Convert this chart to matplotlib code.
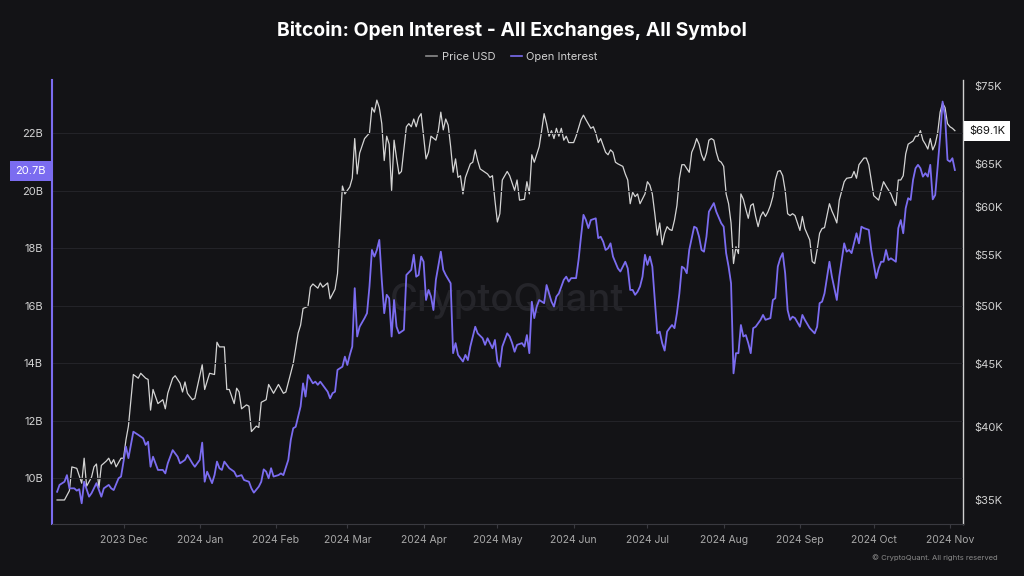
import numpy as np
import pandas as pd
import matplotlib
matplotlib.use('Agg')
import matplotlib.pyplot as plt
import matplotlib.dates as mdates
from matplotlib.lines import Line2D
from matplotlib.ticker import FixedLocator, FuncFormatter, NullLocator

plt.rcParams['font.family'] = ['Inter', 'DejaVu Sans']

# data (days counted from 2023-11-04)
start = pd.Timestamp('2023-11-04')

price_day = [0, 3, 5, 6, 8, 10, 11, 12, 14, 15, 16, 17, 18, 20, 21, 22, 23, 24, 26, 27,
             28, 29, 31, 33, 34, 36, 37, 38, 39, 41, 43, 44, 45, 47, 48, 50, 51, 52, 53, 55,
             56, 57, 59, 60, 62, 64, 65, 66, 68, 69, 70, 72, 73, 74, 75, 77, 78, 79, 81, 82,
             83, 85, 86, 88, 90, 92, 93, 96, 98, 99, 100, 102, 103, 104, 106, 107, 108, 110, 111, 113,
             114, 115, 116, 117, 119, 120, 121, 122, 123, 125, 127, 128, 129, 130, 131, 132, 133, 134, 135, 136,
             137, 138, 139, 140, 142, 143, 144, 145, 146, 147, 148, 150, 151, 152, 154, 155, 156, 157, 158, 159,
             160, 161, 162, 163, 164, 165, 166, 167, 168, 169, 170, 171, 172, 173, 175, 176, 177, 178, 179, 180,
             181, 183, 184, 186, 187, 188, 190, 191, 192, 193, 194, 196, 197, 198, 199, 200, 201, 202, 203, 204,
             205, 206, 207, 208, 210, 211, 213, 214, 215, 217, 218, 219, 220, 221, 223, 224, 225, 226, 227, 228,
             230, 231, 232, 233, 234, 235, 236, 237, 239, 240, 241, 242, 243, 244, 245, 246, 247, 248, 249, 250,
             251, 252, 253, 254, 255, 257, 258, 259, 260, 261, 262, 263, 264, 265, 266, 267, 268, 269, 270, 271,
             272, 273, 274, 275, 276, 277, 278, 279, 280, 281, 282, 283, 284, 285, 286, 287, 288, 289, 290, 291,
             292, 293, 294, 295, 296, 297, 298, 299, 300, 302, 303, 304, 306, 307, 308, 309, 310, 311, 312, 314,
             315, 316, 317, 318, 320, 321, 323, 324, 325, 326, 328, 329, 330, 331, 332, 334, 335, 336, 337, 339,
             340, 341, 342, 343, 344, 345, 346, 348, 349, 350, 351, 352, 353, 354, 355, 356, 357, 358, 359, 360,
             361, 362, 363, 364, 365]
price_k = [35.0, 35.0, 35.6, 37.2, 37.1, 36.1, 37.8, 35.9, 36.5, 37.2, 37.4, 35.8, 37.3, 37.6, 37.8, 37.4, 37.7, 37.2, 37.8, 37.8,
           39.1, 40.1, 44.1, 43.8, 44.2, 43.8, 43.7, 41.3, 42.9, 41.8, 42.1, 41.4, 42.6, 43.8, 44.0, 43.4, 42.7, 43.5, 42.6, 42.1,
           42.2, 43.1, 44.9, 42.9, 44.2, 44.1, 46.8, 46.4, 46.4, 42.9, 42.9, 41.8, 43.0, 42.7, 41.4, 41.7, 41.6, 39.7, 40.1, 40.0,
           41.9, 42.1, 43.3, 42.6, 43.3, 42.6, 42.7, 45.0, 47.6, 48.3, 49.8, 50.0, 51.8, 52.1, 51.7, 52.2, 51.8, 52.2, 50.7, 51.6,
           53.1, 57.5, 62.4, 61.5, 62.3, 63.3, 68.1, 63.8, 66.3, 68.1, 68.8, 72.1, 71.5, 73.1, 72.1, 70.0, 65.4, 68.4, 67.4, 61.9,
           67.9, 65.7, 63.8, 64.1, 69.6, 70.0, 69.6, 70.6, 69.6, 70.8, 71.3, 65.6, 66.4, 68.4, 67.9, 69.1, 71.5, 69.2, 70.6, 69.8,
           67.1, 64.0, 65.6, 63.4, 63.6, 61.5, 63.4, 64.2, 65.0, 65.2, 66.7, 65.4, 64.4, 64.2, 63.8, 63.4, 63.6, 60.8, 58.4, 59.3,
           63.1, 64.1, 63.6, 61.9, 63.1, 60.8, 60.9, 62.9, 61.5, 66.1, 65.2, 67.1, 69.1, 71.3, 70.0, 68.4, 69.1, 68.1, 69.4, 68.4,
           69.4, 67.9, 68.4, 67.6, 67.6, 68.4, 70.5, 71.1, 70.5, 69.4, 69.6, 68.8, 67.6, 68.1, 66.4, 66.1, 66.7, 66.4, 65.2, 65.0,
           64.7, 63.8, 63.1, 60.4, 61.7, 61.2, 61.5, 60.4, 61.5, 62.9, 62.5, 61.5, 59.3, 57.0, 58.3, 56.0, 57.2, 57.9, 57.6, 57.5,
           58.6, 60.2, 63.3, 64.9, 64.9, 64.0, 66.4, 67.1, 68.1, 67.4, 66.1, 65.4, 66.3, 67.9, 68.1, 67.9, 66.4, 65.4, 65.2, 64.7,
           61.5, 60.4, 58.3, 54.1, 55.8, 55.1, 61.5, 60.9, 59.8, 58.8, 60.2, 60.4, 59.0, 57.9, 59.0, 59.5, 59.0, 59.5, 60.2, 61.2,
           63.1, 64.1, 64.2, 63.6, 61.9, 59.3, 59.1, 59.3, 59.1, 57.5, 59.0, 57.7, 56.5, 54.3, 54.1, 55.5, 57.2, 57.7, 57.8, 60.4,
           59.6, 59.0, 58.3, 60.8, 62.9, 63.3, 63.4, 64.1, 63.3, 64.9, 65.7, 65.7, 64.9, 63.1, 61.3, 60.8, 61.9, 62.9, 62.4, 61.5,
           60.8, 60.2, 63.1, 63.1, 63.6, 66.2, 67.4, 67.8, 68.4, 68.4, 69.1, 67.9, 67.4, 66.8, 68.1, 66.7, 67.4, 68.8, 71.5, 72.7,
           72.1, 70.0, 69.6, 69.4, 69.1]

oi_day = [0, 1, 3, 4, 5, 7, 8, 9, 10, 11, 13, 14, 16, 18, 19, 21, 22, 23, 25, 26,
          28, 29, 31, 33, 35, 36, 37, 38, 39, 41, 43, 44, 45, 47, 49, 50, 52, 53, 55, 56,
          58, 59, 60, 61, 63, 64, 65, 66, 67, 68, 70, 72, 73, 75, 76, 78, 79, 80, 82, 83,
          84, 85, 86, 87, 88, 90, 91, 92, 94, 95, 96, 97, 99, 100, 101, 102, 104, 105, 106, 107,
          109, 110, 111, 112, 113, 114, 116, 117, 118, 119, 120, 121, 122, 123, 125, 126, 127, 128, 129, 130,
          131, 132, 133, 134, 135, 136, 137, 138, 139, 141, 142, 144, 145, 146, 147, 148, 149, 150, 151, 152,
          153, 154, 156, 157, 158, 160, 161, 162, 163, 165, 166, 167, 168, 170, 171, 173, 174, 175, 177, 178,
          179, 180, 181, 183, 184, 185, 186, 187, 189, 190, 191, 192, 193, 194, 195, 196, 198, 199, 201, 202,
          203, 204, 205, 206, 207, 208, 209, 211, 212, 213, 214, 215, 216, 217, 219, 220, 221, 222, 223, 224,
          225, 226, 228, 229, 231, 232, 233, 234, 235, 236, 237, 238, 239, 240, 241, 242, 243, 244, 245, 246,
          247, 248, 249, 250, 251, 252, 253, 254, 255, 256, 257, 259, 260, 261, 262, 263, 264, 265, 267, 268,
          270, 271, 272, 273, 274, 275, 276, 277, 278, 279, 280, 281, 282, 283, 284, 286, 287, 288, 290, 291,
          292, 293, 294, 295, 296, 297, 298, 299, 300, 302, 303, 304, 306, 308, 309, 310, 311, 312, 314, 315,
          317, 318, 320, 321, 322, 323, 325, 326, 327, 328, 330, 331, 333, 334, 335, 336, 337, 338, 339, 341,
          342, 343, 344, 345, 346, 347, 348, 349, 350, 351, 352, 353, 354, 355, 356, 357, 358, 359, 360, 361,
          362, 363, 364, 365]
oi_b = [9.53, 9.77, 9.88, 10.11, 9.65, 9.65, 9.57, 9.62, 9.13, 9.88, 9.36, 9.48, 9.83, 9.36, 9.65, 9.77, 9.65, 9.59, 10.00, 10.06,
        11.10, 10.70, 11.62, 11.51, 11.39, 11.16, 11.27, 10.40, 10.75, 10.29, 10.29, 10.17, 10.52, 10.98, 10.75, 10.52, 10.64, 10.81, 10.52, 10.40,
        10.64, 11.24, 9.88, 10.23, 9.83, 10.11, 10.58, 10.35, 10.29, 10.58, 10.35, 10.23, 10.06, 10.11, 9.94, 9.88, 9.65, 9.50, 9.71, 9.88,
        10.31, 10.23, 10.00, 10.35, 10.06, 10.11, 10.17, 10.11, 10.64, 11.33, 11.74, 11.79, 12.50, 13.30, 12.84, 13.59, 13.30, 13.36, 13.25, 13.36,
        13.13, 13.01, 12.78, 12.96, 13.01, 13.77, 13.88, 14.23, 13.94, 14.29, 14.58, 16.61, 14.93, 15.27, 15.57, 15.74, 16.67, 17.94, 17.71, 17.94,
        18.29, 16.90, 15.74, 16.38, 16.26, 14.93, 16.20, 15.27, 15.04, 15.16, 17.07, 17.25, 17.77, 17.01, 17.07, 17.71, 17.53, 16.20, 16.55, 16.32,
        15.85, 16.90, 17.88, 17.25, 17.07, 16.78, 14.35, 14.70, 14.29, 14.06, 14.29, 14.11, 14.58, 15.27, 15.04, 14.87, 14.64, 14.87, 14.52, 14.81,
        14.06, 13.88, 14.58, 15.04, 14.93, 14.70, 14.40, 14.64, 14.70, 14.58, 14.98, 14.35, 16.14, 15.57, 15.97, 16.20, 16.09, 16.72, 16.14, 15.97,
        16.32, 16.43, 16.67, 16.90, 17.01, 16.84, 16.96, 16.96, 17.59, 18.40, 19.16, 18.98, 18.70, 18.98, 19.04, 18.35, 18.40, 18.23, 17.94, 18.00,
        18.17, 17.71, 17.30, 17.19, 17.53, 17.30, 16.55, 16.55, 16.38, 16.49, 16.67, 17.01, 17.77, 17.42, 17.71, 17.36, 16.20, 15.04, 15.10, 14.70,
        14.44, 15.10, 15.22, 15.33, 15.22, 15.74, 16.43, 17.36, 17.30, 17.13, 17.94, 18.75, 18.70, 18.40, 17.94, 17.88, 18.40, 19.27, 19.57, 19.27,
        18.87, 18.75, 17.83, 17.36, 16.78, 13.65, 14.35, 14.35, 15.33, 14.93, 14.98, 14.70, 14.35, 15.22, 15.27, 15.51, 15.68, 15.51, 15.57, 16.20,
        16.26, 17.36, 17.65, 17.83, 17.13, 15.85, 15.51, 15.62, 15.57, 15.27, 15.68, 15.51, 15.22, 15.04, 15.27, 16.09, 16.14, 16.43, 17.53, 17.01,
        16.20, 17.01, 18.17, 17.88, 17.94, 17.83, 18.52, 18.17, 18.75, 18.70, 18.64, 17.94, 16.96, 17.30, 17.53, 17.53, 17.94, 17.59, 17.65, 17.53,
        18.70, 18.98, 18.52, 19.39, 19.74, 19.68, 20.38, 20.78, 20.90, 20.78, 20.49, 20.61, 20.49, 20.90, 19.70, 19.85, 20.84, 21.88, 23.10, 22.60,
        21.07, 21.01, 21.13, 20.72]

left_ticks = [10, 12, 14, 16, 18, 20, 22]
# $70K sits under the last-price box in the reference, so it is left out
right_ticks = [35, 40, 45, 50, 55, 60, 65, 75]
oi_last = 20.7
price_last = 69.1

bg = '#131316'
purple = '#7b6cf0'
white_line = '#d4d4d4'
grid_c = '#232328'

fig = plt.figure(figsize=(10.24, 5.76), dpi=100, facecolor=bg)
ax = fig.add_axes([52 / 1024, 1 - 524 / 576, (963 - 52) / 1024, (524 - 80) / 576])
ax2 = ax.twinx()
ax2.set_facecolor(bg)
ax.set_zorder(ax2.get_zorder() + 1)
ax.patch.set_visible(False)

price_dates = start + pd.to_timedelta(price_day, unit='D')
oi_dates = start + pd.to_timedelta(oi_day, unit='D')

ax2.plot(price_dates, np.array(price_k) * 1000, color=white_line, lw=0.9)
ax.plot(oi_dates, oi_b, color=purple, lw=1.3)

# axes limits
ax.set_xlim(start - pd.Timedelta(days=2.07), start + pd.Timedelta(days=368.3))
ax.set_ylim(8.41, 23.85)
ax2.set_yscale('log')
ax2.set_ylim(33486, 75858)

# left axis
ax.yaxis.set_major_locator(FixedLocator(left_ticks))
ax.yaxis.set_major_formatter(FuncFormatter(lambda v, p: f'{v:.0f}B'))
ax.tick_params(axis='y', length=0, pad=6.5, labelsize=8, labelcolor='#d2d2d2')
ax.grid(axis='y', color=grid_c, lw=0.8)

# right axis
ax2.yaxis.set_major_locator(FixedLocator([v * 1000 for v in right_ticks]))
ax2.yaxis.set_minor_locator(NullLocator())
ax2.yaxis.set_major_formatter(FuncFormatter(lambda v, p: f'${v / 1000:.0f}K'))
ax2.tick_params(axis='y', length=0, pad=8, labelsize=8, labelcolor='#d2d2d2')

# x axis
ax.xaxis.set_major_locator(mdates.MonthLocator())
ax.xaxis.set_major_formatter(mdates.DateFormatter('%Y %b'))
ax.tick_params(axis='x', length=3, width=0.8, color='#3a3a40', pad=5, labelsize=7.5, labelcolor='#a8a8a8')

for s in ['top', 'right']:
    ax.spines[s].set_visible(False)
for s in ['top', 'left', 'bottom']:
    ax2.spines[s].set_visible(False)
ax.spines['left'].set_color(purple)
ax.spines['left'].set_linewidth(1.5)
ax.spines['bottom'].set_color('#3a3a40')
ax.spines['bottom'].set_linewidth(0.8)
ax2.spines['right'].set_color('#cfcfcf')
ax2.spines['right'].set_linewidth(1.0)

# watermark
ax2.text(0.5, 0.503, 'CryptoQuant', transform=ax2.transAxes, ha='center', va='center',
         fontsize=27.5, color='#25252a', fontweight='medium', zorder=0)

# last value labels
ax.annotate(f'{oi_last}B', xy=(0, oi_last), xycoords=('axes fraction', 'data'),
            xytext=(-4.5, 0), textcoords='offset points', ha='right', va='center',
            fontsize=8, color='white', annotation_clip=False,
            bbox=dict(boxstyle='square,pad=0.45', fc=purple, ec='none'))
ax2.annotate(f'${price_last}K', xy=(1, price_last * 1000), xycoords=('axes fraction', 'data'),
             xytext=(4.5, 0), textcoords='offset points', ha='left', va='center',
             fontsize=8, color='#111111', annotation_clip=False,
             bbox=dict(boxstyle='square,pad=0.45', fc='white', ec='none'))

# title, legend, footer
fig.text(0.5, 1 - 30 / 576, 'Bitcoin: Open Interest - All Exchanges, All Symbol', ha='center', va='center',
         fontsize=13.9, fontweight='bold', color='white')
handles = [Line2D([], [], color='#8c8c8c', lw=1.2), Line2D([], [], color=purple, lw=1.2)]
fig.legend(handles, ['Price USD', 'Open Interest'], loc='center', bbox_to_anchor=(0.5, 1 - 57 / 576),
           ncol=2, frameon=False, fontsize=8, labelcolor='#d2d2d2', handlelength=1.0,
           handletextpad=0.4, columnspacing=1.4)
fig.text(998 / 1024, 1 - 558 / 576, '© CryptoQuant. All rights reserved', ha='right', va='center',
         fontsize=5.5, color='#8a8a8a')

fig.savefig('out.png', dpi=100, facecolor=bg)
